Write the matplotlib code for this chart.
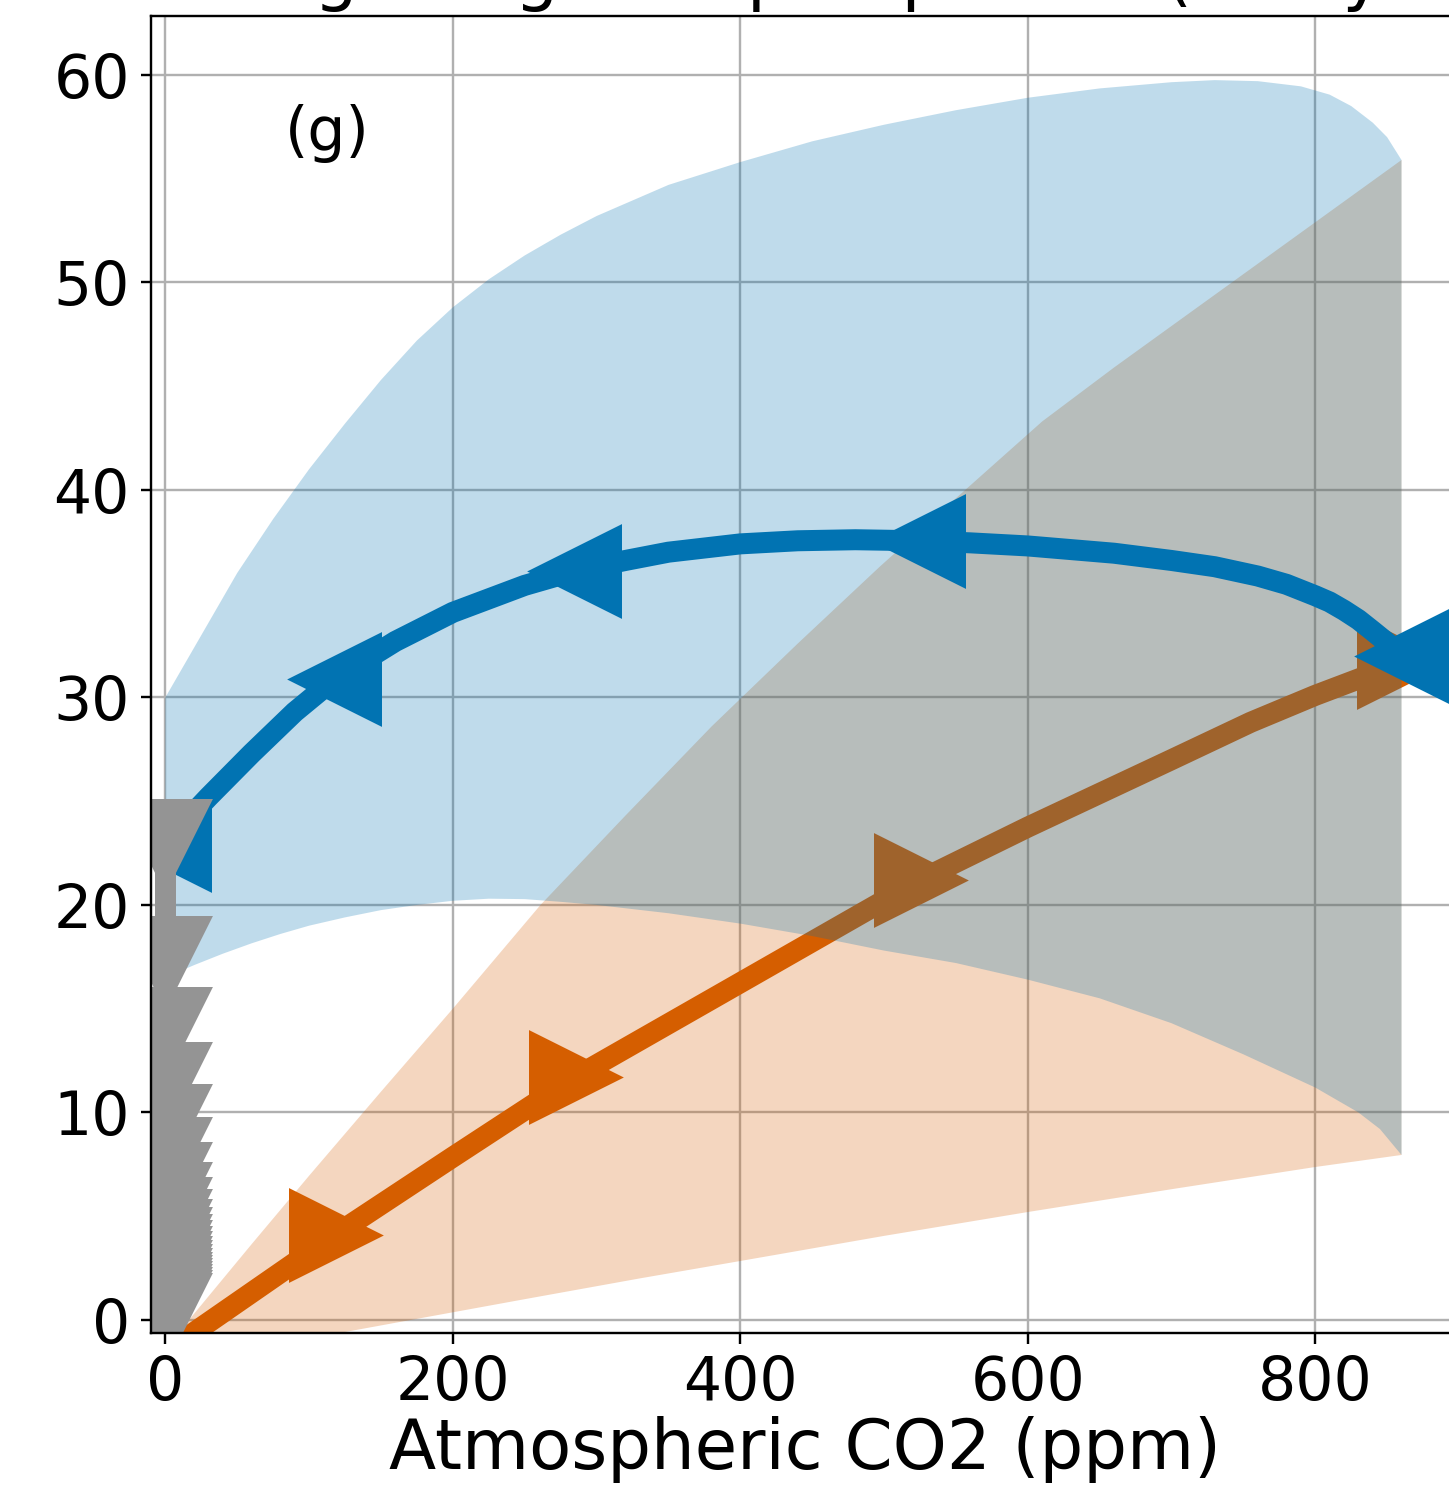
import numpy as np
import matplotlib.pyplot as plt

# Ramp-up path (orange), CO2 in ppm vs response
up_co2 = [0, 18, 118, 200, 285, 400, 525, 600, 700, 755, 800, 861]
up_val = [-1.6, -0.7, 4.1, 7.85, 11.7, 16.25, 21.2, 23.75, 27.0, 28.8, 30.1, 31.7]
up_marks = [2, 4, 6, 11]

# Ramp-down path (blue)
down_co2 = [860, 855, 848, 840, 830, 820, 810, 800, 780, 760, 730, 700, 660, 600,
            560, 524, 480, 440, 400, 350, 320, 285, 250, 200, 160, 118, 90, 60,
            30, 15, 0]
down_val = [32.0, 32.35, 32.75, 33.2, 33.75, 34.2, 34.6, 34.9, 35.45, 35.85, 36.3,
            36.6, 36.95, 37.3, 37.45, 37.55, 37.6, 37.55, 37.4, 37.0, 36.6, 36.1,
            35.4, 34.1, 32.7, 30.9, 29.3, 27.3, 25.2, 24.1, 22.9]
down_marks = [0, 15, 21, 25, 30]

# Zero-emission tail (gray)
tail_val = [22.89, 17.25, 13.83, 11.18, 9.16, 7.57, 6.36, 5.40, 4.67, 4.10, 3.61,
            3.23, 2.89, 2.60, 2.31, 2.07, 1.83, 1.64, 1.45, 1.25, 1.06, 0.92, 0.77,
            0.63, 0.48, 0.34, 0.19, 0.05]
tail_co2 = [0] * len(tail_val)

# Spread bands
up_hi_co2 = [0, 20, 60, 100, 150, 200, 261, 320, 380, 440, 497, 550, 610, 660,
             720, 780, 830, 860]
up_hi_val = [-1.4, 0.3, 3.65, 6.95, 11.0, 15.0, 20.0, 24.3, 28.6, 32.6, 36.3,
             39.6, 43.3, 45.9, 48.9, 51.9, 54.4, 55.9]
up_lo_co2 = [0, 100, 163, 250, 330, 400, 500, 600, 700, 800, 860]
up_lo_val = [-2.2, -0.9, -0.1, 1.0, 2.0, 2.84, 4.05, 5.2, 6.3, 7.37, 7.95]

down_hi_co2 = [0, 25, 50, 75, 100, 125, 150, 175, 200, 225, 250, 275, 300, 350,
               400, 450, 500, 550, 600, 650, 700, 730, 760, 790, 810, 825, 840,
               850, 860]
down_hi_val = [30.0, 33.0, 36.0, 38.6, 41.0, 43.2, 45.3, 47.2, 48.8, 50.15, 51.3,
               52.3, 53.2, 54.7, 55.8, 56.8, 57.6, 58.3, 58.9, 59.35, 59.65, 59.75,
               59.7, 59.45, 59.05, 58.5, 57.7, 57.0, 55.9]
down_lo_co2 = [0, 20, 40, 60, 80, 100, 125, 150, 175, 200, 225, 250, 275, 300,
               350, 400, 450, 500, 550, 600, 650, 700, 750, 800, 830, 845, 860]
down_lo_val = [16.5, 17.1, 17.65, 18.15, 18.6, 19.0, 19.4, 19.75, 20.0, 20.2,
               20.3, 20.28, 20.15, 20.0, 19.6, 19.1, 18.5, 17.8, 17.2, 16.4, 15.5,
               14.3, 12.8, 11.2, 10.0, 9.2, 7.95]

blue = '#0173b2'
orange = '#d55e00'
gray = '#949494'

dpi = 216
fig = plt.figure(figsize=(1449 / dpi, 1486 / dpi), dpi=dpi)
ax = fig.add_axes([151 / 1449, 153 / 1486, 1308 / 1449, 1317 / 1486])
ax.set_axisbelow(True)
ax.grid(True)


def band(x_hi, y_hi, x_lo, y_lo, color, z):
    xs = list(x_hi) + list(x_lo)[::-1]
    ys = list(y_hi) + list(y_lo)[::-1]
    ax.fill(xs, ys, color=color, alpha=0.25, lw=0, zorder=z)


band(up_hi_co2, up_hi_val, up_lo_co2, up_lo_val, orange, 2.0)
ax.plot(up_co2, up_val, color=orange, lw=7, marker='>', ms=30,
        markevery=up_marks, zorder=2.1)
band(down_hi_co2, down_hi_val, down_lo_co2, down_lo_val, blue, 2.2)
ax.plot(down_co2, down_val, color=blue, lw=7, marker='<', ms=30,
        markevery=down_marks, zorder=2.3)
ax.plot(tail_co2, tail_val, color=gray, lw=7, marker='v', ms=30, zorder=2.4)

ax.set_xlim(-10, 900)
ax.set_ylim(-0.63, 62.84)
ax.set_xticks([0, 200, 400, 600, 800])
ax.set_yticks([0, 10, 20, 30, 40, 50, 60])
ax.tick_params(labelsize=20)
ax.set_xlabel('Atmospheric CO2 (ppm)', fontsize=23, labelpad=1)
ax.set_title('Scaling the global pump rates (mol yr\u207b\u00b9)', fontsize=23)
ax.text(0.102, 0.898, '(g)', transform=ax.transAxes, fontsize=20,
        ha='left', va='baseline')

fig.savefig('out.png', dpi=dpi)
